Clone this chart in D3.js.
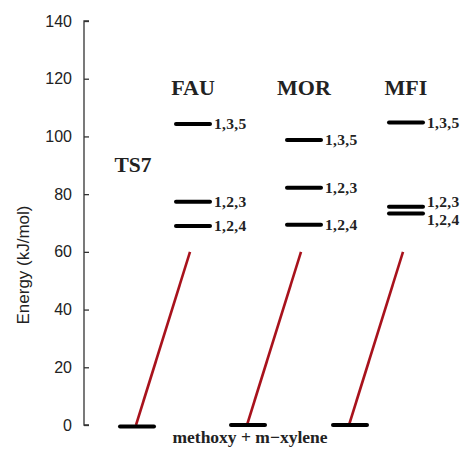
<!DOCTYPE html>
<html>
<head>
<meta charset="utf-8">
<script src="https://cdn.jsdelivr.net/npm/d3@7"></script>
<style>
  body { margin: 0; background: #fff; }
  svg text { fill: #222; }
</style>
</head>
<body>
<div id="chart"></div>
<script>
// energy diagram data (kJ/mol)
var zeolites = ["FAU", "MOR", "MFI"];
var isomers = ["1,3,5", "1,2,3", "1,2,4"];
var fauEnergies = [104.3, 77.4, 69.0];
var morEnergies = [98.8, 82.2, 69.4];
var mfiEnergies = [104.8, 75.6, 73.3];
var reactantEnergy = 0;
var tsEnergy = 60;
var yTicks = [0, 20, 40, 60, 80, 100, 120, 140];

var energies = [fauEnergies, morEnergies, mfiEnergies];

var width = 465, height = 449;

var svg = d3.select("#chart").append("svg")
    .attr("width", width)
    .attr("height", height);

var y = d3.scaleLinear().domain([0, 140]).range([425, 21]);
// column index -> centre of the reactant bar (columns are not evenly spaced)
var x = d3.scaleLinear().domain([0, 1, 2]).range([137, 248, 350]);
var levelShift = 56, halfBar = 17;

// y axis, ticks pointing inwards
var yAxis = d3.axisRight(y).tickValues(yTicks).tickSize(5).tickFormat(d3.format("d"));
var ax = svg.append("g").attr("transform", "translate(84,0)").call(yAxis);
ax.select(".domain").attr("d", "M5," + y(140) + "H0V" + y(0) + "H5")
    .attr("stroke", "#333").attr("stroke-width", 1.3);
ax.selectAll(".tick line").attr("stroke", "#333").attr("stroke-width", 1.3);
ax.selectAll(".tick text")
    .attr("x", -12).attr("text-anchor", "end")
    .style("font-family", "Liberation Sans, Arial, sans-serif")
    .style("font-size", "16px").attr("fill", "#222");

svg.append("text")
    .attr("transform", "translate(29,265) rotate(-90)")
    .attr("text-anchor", "middle")
    .style("font-family", "Liberation Sans, Arial, sans-serif")
    .style("font-size", "17px")
    .text("Energy (kJ/mol)");

var serif = "Liberation Serif, Times New Roman, serif";

// red transition lines from reactant to TS level
svg.selectAll("line.ts").data(zeolites).enter().append("line")
    .attr("class", "ts")
    .attr("x1", (d, i) => x(i) - 1)
    .attr("y1", y(reactantEnergy))
    .attr("x2", (d, i) => x(i) + levelShift - 3)
    .attr("y2", y(tsEnergy))
    .attr("stroke", "#a8121c")
    .attr("stroke-width", 2.6);

// reactant bars
svg.selectAll("line.base").data(zeolites).enter().append("line")
    .attr("class", "base")
    .attr("x1", (d, i) => x(i) - halfBar)
    .attr("x2", (d, i) => x(i) + halfBar)
    .attr("y1", (d, i) => y(reactantEnergy) + (i == 0 ? 1.5 : 0))
    .attr("y2", (d, i) => y(reactantEnergy) + (i == 0 ? 1.5 : 0))
    .attr("stroke", "#000").attr("stroke-width", 4).attr("stroke-linecap", "round");

// product levels per zeolite
zeolites.forEach((z, i) => {
    var g = svg.append("g");
    var cx = x(i) + levelShift;
    g.selectAll("line").data(energies[i]).enter().append("line")
        .attr("x1", cx - halfBar).attr("x2", cx + halfBar)
        .attr("y1", d => y(d)).attr("y2", d => y(d))
        .attr("stroke", "#000").attr("stroke-width", 4).attr("stroke-linecap", "round");

    g.selectAll("text").data(energies[i]).enter().append("text")
        .attr("x", cx + halfBar + 4)
        .attr("y", (d, k) => {
            var yy = y(d);
            // spread labels that would overlap
            if (k == 1 && Math.abs(energies[i][2] - d) < 4) yy -= 5;
            if (k == 2 && Math.abs(energies[i][1] - d) < 4) yy += 6;
            return yy;
        })
        .attr("dy", "0.35em")
        .style("font-family", serif)
        .style("font-weight", "bold")
        .style("font-size", "15.5px")
        .style("letter-spacing", "0.3px")
        .text((d, k) => isomers[k]);

    svg.append("text")
        .attr("x", cx).attr("y", 95)
        .attr("text-anchor", "middle")
        .style("font-family", serif)
        .style("font-weight", "bold")
        .style("font-size", "22px")
        .text(z);
});

svg.append("text")
    .attr("x", 133).attr("y", 172)
    .attr("text-anchor", "middle")
    .style("font-family", serif)
    .style("font-weight", "bold")
    .style("font-size", "21.5px")
    .text("TS7");

svg.append("text")
    .attr("x", 250).attr("y", 443)
    .attr("text-anchor", "middle")
    .style("font-family", serif)
    .style("font-weight", "bold")
    .style("font-size", "17.5px")
    .text("methoxy + m\u2212xylene");
</script>
</body>
</html>
